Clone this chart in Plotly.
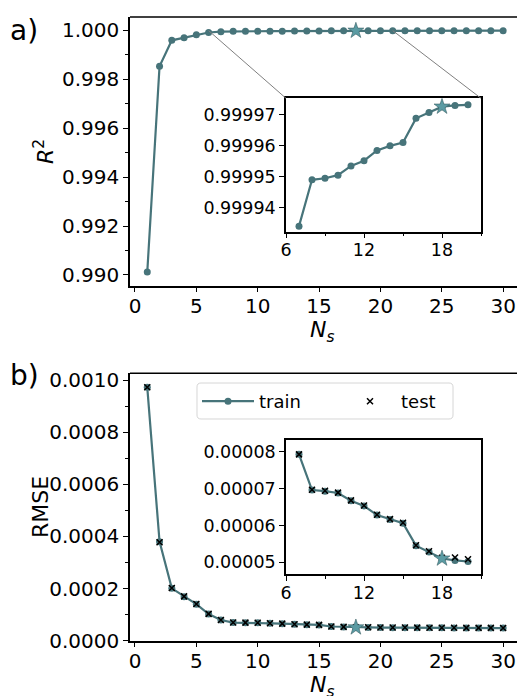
import plotly.graph_objects as go

# ---------------- data ----------------
ns = list(range(1, 31))
r2_train = [0.99012, 0.99852, 0.99958, 0.99969, 0.99981, 0.99990,
            0.999934, 0.999949, 0.9999495, 0.9999505, 0.9999535, 0.9999552,
            0.9999585, 0.9999600, 0.9999611, 0.9999689, 0.9999708, 0.9999727,
            0.9999731, 0.9999733, 0.9999735, 0.9999737, 0.9999740, 0.9999742,
            0.9999744, 0.9999745, 0.9999747, 0.9999748, 0.9999750, 0.9999751]
rmse_train = [0.000972, 0.000380, 0.000201, 0.000169, 0.000140, 0.000102,
              0.0000793, 0.0000696, 0.0000693, 0.0000688, 0.0000667, 0.0000653,
              0.0000628, 0.0000616, 0.0000606, 0.0000545, 0.0000528, 0.0000510,
              0.0000505, 0.0000502, 0.0000500, 0.0000498, 0.0000496, 0.0000494,
              0.0000492, 0.0000490, 0.0000488, 0.0000487, 0.0000486, 0.0000485]
rmse_test = [0.000972, 0.000378, 0.000202, 0.000170, 0.000141, 0.000103,
             0.0000793, 0.0000697, 0.0000694, 0.0000689, 0.0000668, 0.0000654,
             0.0000629, 0.0000617, 0.0000607, 0.0000546, 0.0000530, 0.0000512,
             0.0000513, 0.0000508, 0.0000505, 0.0000503, 0.0000501, 0.0000499,
             0.0000497, 0.0000495, 0.0000493, 0.0000492, 0.0000491, 0.0000490]
best_ns = 18
inset_lo, inset_hi = 7, 20

# ---------------- styles ----------------
W, H = 517, 696
LINE = "#47747a"
STAR = "#5b9ba3"
FONT = "DejaVu Sans"

def px_x(p):
    return p / W

def px_y(p):
    return 1 - p / H

main_left, main_right = 130, 517
top_box = (17, 285.5)
bot_box = (373.3, 640.7)
ins_left, ins_right = 286, 481
top_ins_box = (98.3, 231.7)
bot_ins_box = (440, 574)
legend_box = (197, 383, 453, 419)  # left, top, right, bottom (px)

x_range = [-0.407, 31.13]
y1_range = [0.989571, 1.000532]
y2_range = [0.0, 0.0010257]
xi_range = [6, 21]
yi1_range = [0.9999322, 0.9999754]
yi2_range = [0.0000468, 0.0000832]

fig = go.Figure()

ins_idx = [i for i, n in enumerate(ns) if inset_lo <= n <= inset_hi]
bi = ns.index(best_ns)

def add_train(xa, ya, xs, ys, legend=False):
    fig.add_trace(go.Scatter(x=xs, y=ys, mode="lines+markers", xaxis=xa, yaxis=ya,
                             line=dict(color=LINE, width=2.2),
                             marker=dict(color=LINE, size=7, symbol="circle"),
                             name="train", showlegend=legend))

def add_test(xa, ya, xs, ys, legend=False):
    fig.add_trace(go.Scatter(x=xs, y=ys, mode="markers", xaxis=xa, yaxis=ya,
                             marker=dict(symbol="x-thin-open", size=6, color="black",
                                         line=dict(color="black", width=1.5)),
                             name="test", showlegend=legend))

def add_star(xa, ya, xv, yv):
    fig.add_trace(go.Scatter(x=[xv], y=[yv], mode="markers", xaxis=xa, yaxis=ya,
                             marker=dict(symbol="star", size=12, color=STAR,
                                         line=dict(color="#3d6166", width=0.6)),
                             showlegend=False, hoverinfo="skip"))

add_train("x", "y", ns, r2_train)
add_star("x", "y", ns[bi], r2_train[bi])
add_train("x2", "y2", [ns[i] for i in ins_idx], [r2_train[i] for i in ins_idx])
add_star("x2", "y2", ns[bi], r2_train[bi])
add_train("x3", "y3", ns, rmse_train, legend=True)
add_test("x3", "y3", ns, rmse_test, legend=True)
add_star("x3", "y3", ns[bi], rmse_train[bi])
add_train("x4", "y4", [ns[i] for i in ins_idx], [rmse_train[i] for i in ins_idx])
add_test("x4", "y4", [ns[i] for i in ins_idx], [rmse_test[i] for i in ins_idx])
add_star("x4", "y4", ns[bi], rmse_train[bi])

tickfont = dict(family=FONT, size=20, color="black")
itickfont = dict(family=FONT, size=17.5, color="black")

def main_x(anchor, box):
    return dict(domain=[px_x(main_left), 1], range=x_range, anchor=anchor,
                showline=True, linecolor="black", linewidth=1.5, mirror=False,
                ticks="outside", ticklen=5, tickwidth=1.2, tickcolor="black",
                tick0=0, dtick=5, tickfont=tickfont, showgrid=False, zeroline=False,
                ticklabelstandoff=-3, automargin=False)

def main_y(anchor, box, rng, dt, fmt):
    return dict(domain=[px_y(box[1]), px_y(box[0])], range=rng, anchor=anchor,
                showline=True, linecolor="black", linewidth=1.5, mirror=False,
                ticks="outside", ticklen=5, tickwidth=1.2, tickcolor="black",
                tick0=0, dtick=dt, tickformat=fmt, tickfont=tickfont,
                minor=dict(ticks="outside", ticklen=3, tickwidth=1, tickcolor="black",
                           dtick=dt / 2, tick0=0),
                showgrid=False, zeroline=False, automargin=False)

def ins_x(anchor):
    return dict(domain=[px_x(ins_left), px_x(ins_right)], range=xi_range, anchor=anchor,
                showline=True, linecolor="black", linewidth=1.5, mirror=True,
                ticks="outside", ticklen=5, tickwidth=1.2, tickcolor="black",
                tick0=0, dtick=6, tickfont=itickfont,
                minor=dict(ticks="outside", ticklen=3, tickwidth=1, tickcolor="black",
                           dtick=3, tick0=0),
                showgrid=False, zeroline=False, ticklabelstandoff=-3, automargin=False)

def ins_y(anchor, box, rng, fmt):
    return dict(domain=[px_y(box[1]), px_y(box[0])], range=rng, anchor=anchor,
                showline=True, linecolor="black", linewidth=1.5, mirror=True,
                ticks="outside", ticklen=5, tickwidth=1.2, tickcolor="black",
                dtick=0.00001, tick0=0, tickformat=fmt, tickfont=itickfont,
                showgrid=False, zeroline=False, automargin=False)

fig.update_layout(
    width=W, height=H, margin=dict(l=0, r=0, t=0, b=0, autoexpand=False),
    paper_bgcolor="white", plot_bgcolor="white",
    font=dict(family=FONT, color="black"),
    xaxis=main_x("y", top_box),
    yaxis=main_y("x", top_box, y1_range, 0.002, ".3f"),
    xaxis2=ins_x("y2"),
    yaxis2=ins_y("x2", top_ins_box, yi1_range, ".5f"),
    xaxis3=main_x("y3", bot_box),
    yaxis3=main_y("x3", bot_box, y2_range, 0.0002, ".4f"),
    xaxis4=ins_x("y4"),
    yaxis4=ins_y("x4", bot_ins_box, yi2_range, ".5f"),
    legend=dict(orientation="h", x=px_x(legend_box[0]), y=px_y(legend_box[1]),
                xanchor="left", yanchor="top",
                bgcolor="rgba(0,0,0,0)", borderwidth=0,
                font=dict(family=FONT, size=18, color="black"),
                entrywidth=75, itemwidth=52, tracegroupgap=0),
    showlegend=True,
)

shapes = []
for xa, ya in (("x", "y"), ("x3", "y3")):
    shapes.append(dict(type="line", xref=xa + " domain", yref=ya + " domain",
                       x0=0, x1=1, y0=1, y1=1, line=dict(color="black", width=1.5)))

def data_to_px(xv, yv, box, yr):
    px = main_left + (xv - x_range[0]) / (x_range[1] - x_range[0]) * (main_right - main_left)
    py = box[1] - (yv - yr[0]) / (yr[1] - yr[0]) * (box[1] - box[0])
    return px, py

for xv, ipx in ((xi_range[0], ins_left), (xi_range[1], ins_right)):
    sx, sy = data_to_px(xv, yi1_range[1], top_box, y1_range)
    shapes.append(dict(type="line", xref="paper", yref="paper",
                       x0=px_x(sx), y0=px_y(sy), x1=px_x(ipx), y1=px_y(top_ins_box[0]),
                       line=dict(color="#808080", width=1)))

# rounded legend frame
l, t, r, b = legend_box
rad = 4
pts = [("M", l + rad, t), ("L", r - rad, t), ("Q", r, t, r, t + rad), ("L", r, b - rad),
       ("Q", r, b, r - rad, b), ("L", l + rad, b), ("Q", l, b, l, b - rad),
       ("L", l, t + rad), ("Q", l, t, l + rad, t)]
path = ""
for p in pts:
    cmd = p[0]
    coords = p[1:]
    s = " ".join(f"{px_x(coords[i]):.5f},{px_y(coords[i + 1]):.5f}" for i in range(0, len(coords), 2))
    path += f"{cmd}{s} "
path += "Z"
shapes.append(dict(type="path", xref="paper", yref="paper", path=path,
                   line=dict(color="#d6d6d6", width=1), fillcolor="rgba(255,255,255,0.8)",
                   layer="above"))
fig.update_layout(shapes=shapes)

ann = []
def label(text, x, y, size, angle=0):
    ann.append(dict(text=text, x=px_x(x), y=px_y(y), xref="paper", yref="paper",
                    showarrow=False, textangle=angle, xanchor="center", yanchor="middle",
                    font=dict(family=FONT, size=size, color="black")))

label("a)", 24, 30, 28)
label("b)", 24, 375, 28)
label("<i>R</i><sup>2</sup>", 44, 152, 22, -90)
label("RMSE", 40, 507, 22, -90)
label("<i>N</i><sub><i>s</i></sub>", 322, 331, 22)
label("<i>N</i><sub><i>s</i></sub>", 322, 686, 22)
fig.update_layout(annotations=ann)

fig.write_html("out.html")
